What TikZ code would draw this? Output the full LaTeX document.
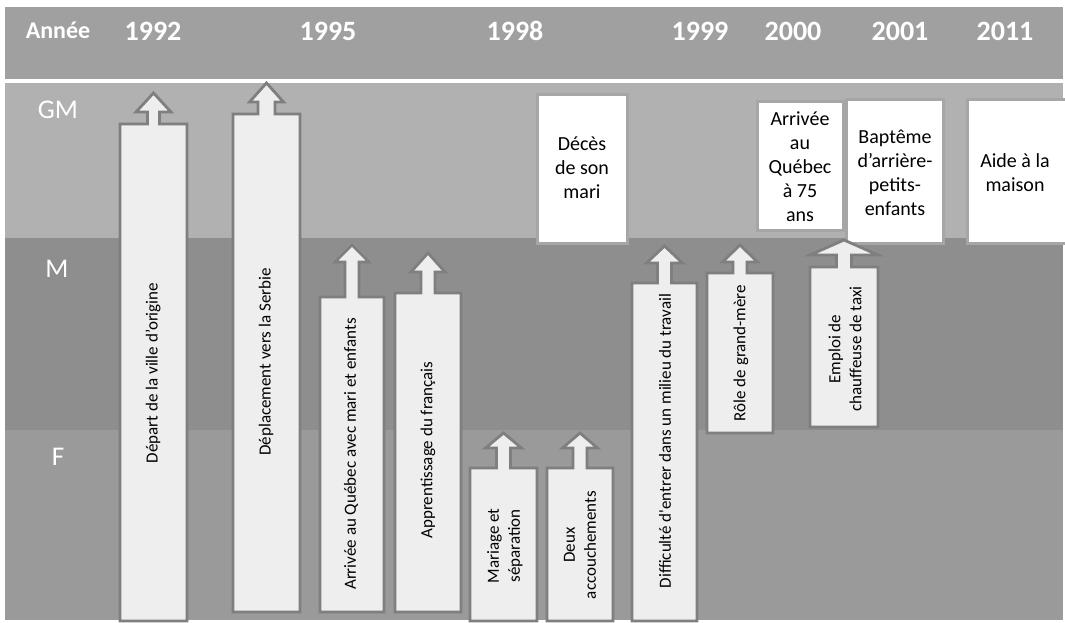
\documentclass[tikz,border=0pt]{standalone}
\usepackage{fontspec}
\setmainfont{Carlito}

\definecolor{headgray}{HTML}{A0A0A0}
\definecolor{gmgray}{HTML}{B1B1B1}
\definecolor{mgray}{HTML}{8E8E8E}
\definecolor{fgray}{HTML}{9A9A9A}
\definecolor{arrowfill}{HTML}{EEEEEE}
\definecolor{arrowline}{HTML}{7F7F7F}
\definecolor{boxline}{HTML}{A6A6A6}

% left, right, top, bottom, stem half, wing half, wing y, tip y
\newcommand{\eventarrow}[8]{%
  \pgfmathsetmacro{\arrowmid}{(#1+#2)/2}%
  \draw[evtarrow] (#1,#4) -- (#1,#3) -- (\arrowmid-#5,#3) -- (\arrowmid-#5,#7)
    -- (\arrowmid-#6,#7) -- (\arrowmid,#8) -- (\arrowmid+#6,#7) -- (\arrowmid+#5,#7)
    -- (\arrowmid+#5,#3) -- (#2,#3) -- (#2,#4) -- cycle;}

\begin{document}
\begin{tikzpicture}[x=1pt, y=-1pt,
    evtarrow/.style = {fill=arrowfill, draw=arrowline, line width=2.8pt},
    evtbox/.style = {fill=white, draw=boxline, line width=3pt},
    yearlbl/.style = {anchor=base, text=white, font=\fontsize{28}{32}\selectfont\bfseries, inner sep=0},
    rowlbl/.style = {anchor=base, text=white, font=\fontsize{27}{30}\selectfont, inner sep=0},
    vtext/.style = {rotate=90, align=center, inner sep=0, font=\fontsize{17}{21}\selectfont},
    boxtext/.style = {align=center, inner sep=0, font=\fontsize{20}{24}\selectfont}]
        \useasboundingbox (0,0) rectangle (1065,623);
        \fill[white] (0,0) rectangle (1065,623);

        % bands
        \fill[headgray] (5,7) rectangle (1063,79);
        \fill[gmgray] (5,83) rectangle (1063,238);
        \fill[mgray] (5,238) rectangle (1063,430);
        \fill[fgray] (5,430) rectangle (1063,620);

        % header
        \node[yearlbl, font=\fontsize{24}{28}\selectfont\bfseries] (annee) at (58,39) {Année};
        \node[yearlbl] (y1992) at (153,41) {1992};
        \node[yearlbl] (y1995) at (328,41) {1995};
        \node[yearlbl] (y1998) at (515,41) {1998};
        \node[yearlbl] (y1999) at (700,41) {1999};
        \node[yearlbl] (y2000) at (793,41) {2000};
        \node[yearlbl] (y2001) at (900,41) {2001};
        \node[yearlbl] (y2011) at (1005,41) {2011};

        \node[rowlbl] (gm) at (58,119) {GM};
        \node[rowlbl] (m) at (57,277) {M};
        \node[rowlbl] (f) at (58,465) {F};

        % GM boxes
        \draw[evtbox] (537,95) rectangle (627,243);
        \node[boxtext] (deces) at (582,168) {Décès\\de son\\mari};
        \draw[evtbox] (757,102) rectangle (843,230);
        \node[boxtext] (arrivee) at (800,167) {Arrivée\\au\\Québec\\à 75\\ans};
        \draw[evtbox] (846,100) rectangle (943,243);
        \node[boxtext] (bapteme) at (895,173) {Baptême\\d’arrière-\\petits-\\enfants};
        \draw[evtbox] (967,100) rectangle (1066,243);
        \node[boxtext] (aide) at (1015,173) {Aide à la\\maison};

        % arrows
        \eventarrow{120}{187}{124}{621}{6}{17.5}{112}{93}
        \node[vtext] (depart) at (153,373) {Départ de la ville d’origine};
        \eventarrow{233}{300}{114}{612}{8.5}{17}{102}{83}
        \node[vtext] (serbie) at (266,362) {Déplacement vers la Serbie};
        \eventarrow{320}{384}{297}{612}{7}{17}{262}{245}
        \node[vtext] (quebec) at (351,454) {Arrivée au Québec avec mari et enfants};
        \eventarrow{395}{461}{293}{612}{7}{17}{272}{253}
        \node[vtext] (francais) at (428,450) {Apprentissage du français};
        \eventarrow{470}{537}{468}{621}{7}{18}{448}{433}
        \node[vtext] (mariage) at (505,546) {Mariage et\\séparation};
        \eventarrow{547}{613}{468}{621}{7}{17.5}{448}{433}
        \node[vtext] (deux) at (580,545) {Deux\\accouchements};
        \eventarrow{632}{697}{283}{621}{7}{18}{263}{246}
        \node[vtext] (travail) at (665,441) {Difficulté d\textquotesingle entrer dans un milieu du travail};
        \eventarrow{707}{773}{273}{433}{7}{17.5}{262}{245}
        \node[vtext] (role) at (741,353) {Rôle de grand-mère};
        \eventarrow{810}{878}{267}{427}{7.5}{34}{255}{240}
        \node[vtext] (taxi) at (845,349) {Emploi de\\chauffeuse de taxi};
    \end{tikzpicture}
\end{document}
